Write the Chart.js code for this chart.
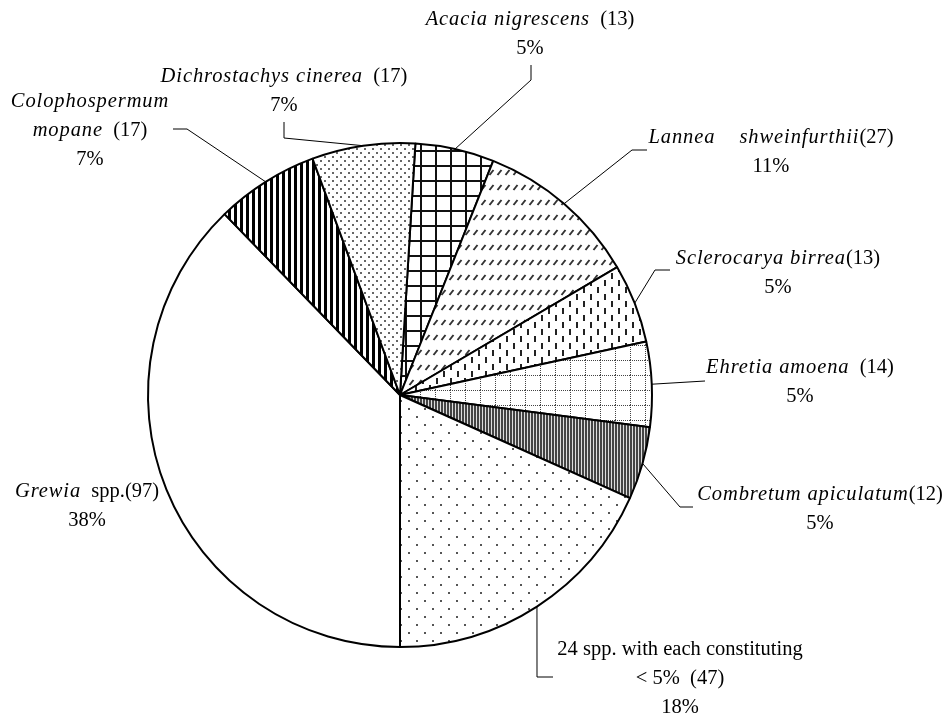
<!DOCTYPE html>
<html>
<head>
<meta charset="utf-8">
<script src="https://cdn.jsdelivr.net/npm/chart.js@4.4.0/dist/chart.umd.min.js"></script>
<style>
  body { margin: 0; background: #fff; }
  #wrap { width: 945px; height: 719px; }
</style>
</head>
<body>
<div id="wrap"><canvas id="pieChart" width="945" height="719"></canvas></div>
<script>
// slices, clockwise from the top
var species = ['Acacia nigrescens', 'Lannea shweinfurthii', 'Sclerocarya birrea', 'Ehretia amoena',
    'Combretum apiculatum', '24 spp. with each constituting < 5%', 'Grewia spp.', 'Colophospermum mopane',
    'Dichrostachys cinerea'];
var counts = [13, 27, 13, 14, 12, 47, 97, 17, 17];
var total = counts.reduce(function(a, b) { return a + b; }, 0);

// label text, {n} = count ; 1 = italic
var labelLines = [
    [[['Acacia nigrescens', 1], ['  ({n})', 0]]],
    [[['Lannea    shweinfurthii', 1], ['({n})', 0]]],
    [[['Sclerocarya birrea', 1], ['({n})', 0]]],
    [[['Ehretia amoena', 1], ['  ({n})', 0]]],
    [[['Combretum apiculatum', 1], ['({n})', 0]]],
    [[['24 spp. with each constituting', 0]], [['< 5%  ({n})', 0]]],
    [[['Grewia', 1], ['  spp.({n})', 0]]],
    [[['Colophospermum', 1]], [['mopane', 1], ['  ({n})', 0]]],
    [[['Dichrostachys cinerea', 1], ['  ({n})', 0]]]
];
// where the labels sit (centre x, first baseline) and the leader bends
var labelAt = [[530, 25], [771, 143], [778, 264], [800, 373], [820, 500], [680, 655], [87, 497], [90, 107], [284, 82]];
var leaderBends = [
    [[531, 80], [531, 65]],
    [[632, 150], [647, 150]],
    [[655, 270], [670, 270]],
    [[705, 381]],
    [[680, 507], [693, 507]],
    [[537, 677], [553, 677]],
    [],
    [[187, 129], [173, 129]],
    [[284, 138], [284, 122]]
];
var lineGap = 29;

function makePattern(w, h, draw) {
    var c = document.createElement('canvas');
    c.width = w;
    c.height = h;
    var g = c.getContext('2d');
    g.fillStyle = '#fff';
    g.fillRect(0, 0, w, h);
    draw(g);
    return document.getElementById('pieChart').getContext('2d').createPattern(c, 'repeat');
}

var fills = [
    // square grid
    makePattern(15, 15, function(g) {
        g.fillStyle = '#111';
        g.fillRect(0, 0, 15, 2);
        g.fillRect(0, 0, 2, 15);
    }),
    // short diagonal dashes
    makePattern(8, 15, function(g) {
        g.strokeStyle = '#333';
        g.lineWidth = 2;
        g.beginPath();
        g.moveTo(1.5, 10);
        g.lineTo(5.5, 5);
        g.stroke();
    }),
    // short vertical dashes
    makePattern(14, 14, function(g) {
        g.fillStyle = '#222';
        g.fillRect(2, 0, 2, 6);
        g.fillRect(9, 7, 2, 6);
    }),
    // dotted grid
    makePattern(15, 15, function(g) {
        g.fillStyle = '#444';
        for (var k = 0; k < 15; k += 2) {
            g.fillRect(k, 0, 1, 1);
            g.fillRect(0, k, 1, 1);
        }
    }),
    // fine vertical lines
    makePattern(3, 3, function(g) {
        g.fillStyle = '#444';
        g.fillRect(0, 0, 2, 3);
        g.fillStyle = '#ddd';
        g.fillRect(2, 0, 1, 3);
    }),
    // sparse dots
    makePattern(16, 16, function(g) {
        g.fillStyle = '#555';
        g.fillRect(0, 0, 2, 2);
        g.fillRect(8, 8, 2, 2);
    }),
    '#ffffff',
    // wide vertical stripes
    makePattern(6, 6, function(g) {
        g.fillStyle = '#000';
        g.fillRect(0, 0, 3, 6);
    }),
    // dense dots
    makePattern(8, 8, function(g) {
        g.fillStyle = '#666';
        g.fillRect(0, 0, 2, 2);
        g.fillRect(4, 4, 2, 2);
    })
];

var sliceLabels = {
    id: 'sliceLabels',
    afterDraw: function(chart) {
        var ctx = chart.ctx;
        var arcs = chart.getDatasetMeta(0).data;
        ctx.save();
        // leader lines, starting at the middle of each arc
        ctx.strokeStyle = '#000';
        ctx.lineWidth = 1;
        arcs.forEach(function(arc, i) {
            var bends = leaderBends[i];
            if (!bends.length) return;
            var mid = (arc.startAngle + arc.endAngle) / 2;
            ctx.beginPath();
            ctx.moveTo(arc.x + arc.outerRadius * Math.cos(mid), arc.y + arc.outerRadius * Math.sin(mid));
            bends.forEach(function(p) { ctx.lineTo(p[0], p[1]); });
            ctx.stroke();
        });
        // text
        ctx.fillStyle = '#000';
        ctx.textBaseline = 'alphabetic';
        ctx.textAlign = 'left';
        counts.forEach(function(n, i) {
            var lines = labelLines[i].concat([[[Math.round(n / total * 100) + '%', 0]]]);
            lines.forEach(function(line, j) {
                var parts = line.map(function(s) {
                    return {
                        t: s[0].replace('{n}', n),
                        font: (s[1] ? 'italic ' : '') + '20.5px "Liberation Serif"',
                        ls: s[1] ? '0.9px' : '0px'
                    };
                });
                var width = 0;
                parts.forEach(function(p) {
                    ctx.font = p.font;
                    ctx.letterSpacing = p.ls;
                    p.w = ctx.measureText(p.t).width;
                    width += p.w;
                });
                var x = labelAt[i][0] - width / 2;
                var y = labelAt[i][1] + j * lineGap;
                parts.forEach(function(p) {
                    ctx.font = p.font;
                    ctx.letterSpacing = p.ls;
                    ctx.fillText(p.t, x, y);
                    x += p.w;
                });
            });
        });
        ctx.restore();
    }
};

new Chart(document.getElementById('pieChart'), {
    type: 'pie',
    data: {
        labels: species,
        datasets: [{
            data: counts,
            backgroundColor: fills,
            borderColor: '#000',
            borderWidth: 2
        }]
    },
    options: {
        responsive: false,
        animation: false,
        rotation: 3.5,
        radius: 252,
        layout: { padding: { left: 0, right: 145, top: 71, bottom: 0 } },
        plugins: {
            legend: { display: false },
            tooltip: { enabled: false }
        },
        events: []
    },
    plugins: [sliceLabels]
});
</script>
</body>
</html>
